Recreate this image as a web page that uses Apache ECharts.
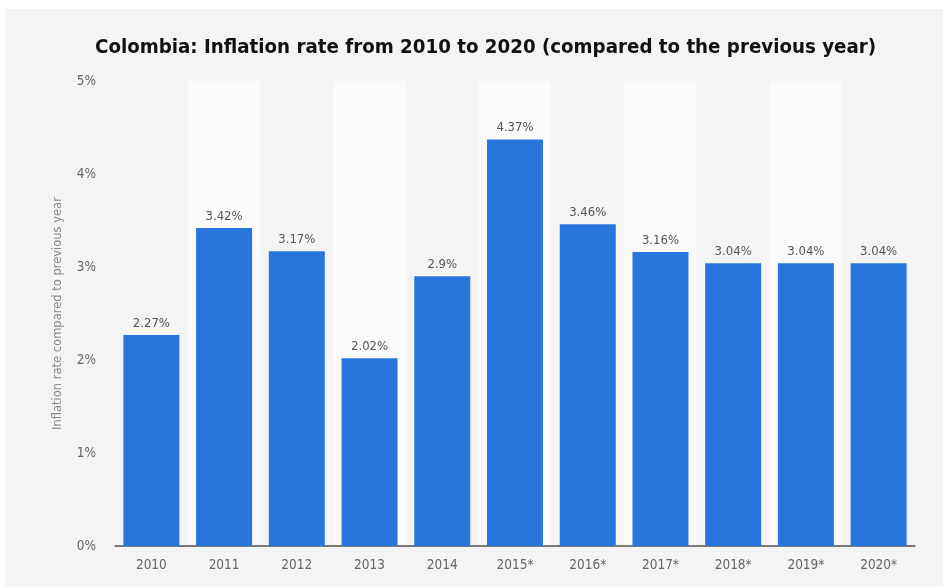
<!DOCTYPE html>
<html>
<head>
<meta charset="utf-8">
<script src="https://cdn.jsdelivr.net/npm/echarts@6/dist/echarts.min.js"></script>
<style>
  html, body { margin: 0; padding: 0; background: #ffffff; }
  #chart { position: absolute; left: 5px; top: 9px; width: 938px; height: 578px; background: #f4f4f4; }
</style>
</head>
<body>
<div id="chart"></div>
<script>
// Annual inflation, Colombia (values marked * are projections)
const years = ['2010', '2011', '2012', '2013', '2014', '2015*', '2016*', '2017*', '2018*', '2019*', '2020*'];
const inflation = [2.27, 3.42, 3.17, 2.02, 2.9, 4.37, 3.46, 3.16, 3.04, 3.04, 3.04];
const yTicks = [0, 1, 2, 3, 4, 5];

const chart = echarts.init(document.getElementById('chart'));
const font = 'DejaVu Sans Condensed, DejaVu Sans, sans-serif';

chart.setOption({
  backgroundColor: '#f4f4f4',
  animation: false,
  title: {
    text: 'Colombia: Inflation rate from 2010 to 2020 (compared to the previous year)',
    left: 85,
    top: 24,
    textStyle: { fontFamily: font, fontWeight: 'bold', fontSize: 20.3, color: '#111111' }
  },
  grid: { left: 110, right: 28, top: 72, bottom: 41 },
  xAxis: {
    type: 'category',
    data: years,
    axisLine: { lineStyle: { color: '#555555', width: 1.5 } },
    axisTick: { show: false },
    axisLabel: { fontFamily: font, fontSize: 13.5, color: '#666666', margin: 12 },
    splitArea: { show: true, areaStyle: { color: ['#f4f4f4', '#fafafa'] } }
  },
  yAxis: {
    type: 'value',
    min: yTicks[0],
    max: yTicks[yTicks.length - 1],
    interval: 1,
    name: 'Inflation rate compared to previous year',
    nameLocation: 'middle',
    nameGap: 51,
    nameTextStyle: { fontFamily: 'DejaVu Sans, sans-serif', fontSize: 11.5, color: '#888888' },
    axisLine: { show: false },
    axisTick: { show: false },
    axisLabel: { fontFamily: font, fontSize: 13.5, color: '#666666', margin: 19, formatter: v => v + '%' },
    splitLine: { lineStyle: { color: '#c8c8c8', type: 'dotted' } }
  },
  series: [{
    type: 'bar',
    data: inflation,
    barWidth: '77%',
    itemStyle: { color: '#2876dd' },
    label: {
      show: true,
      position: 'top',
      distance: 5,
      fontFamily: font,
      fontSize: 13,
      color: '#555555',
      formatter: p => p.value + '%'
    }
  }]
});
</script>
</body>
</html>
